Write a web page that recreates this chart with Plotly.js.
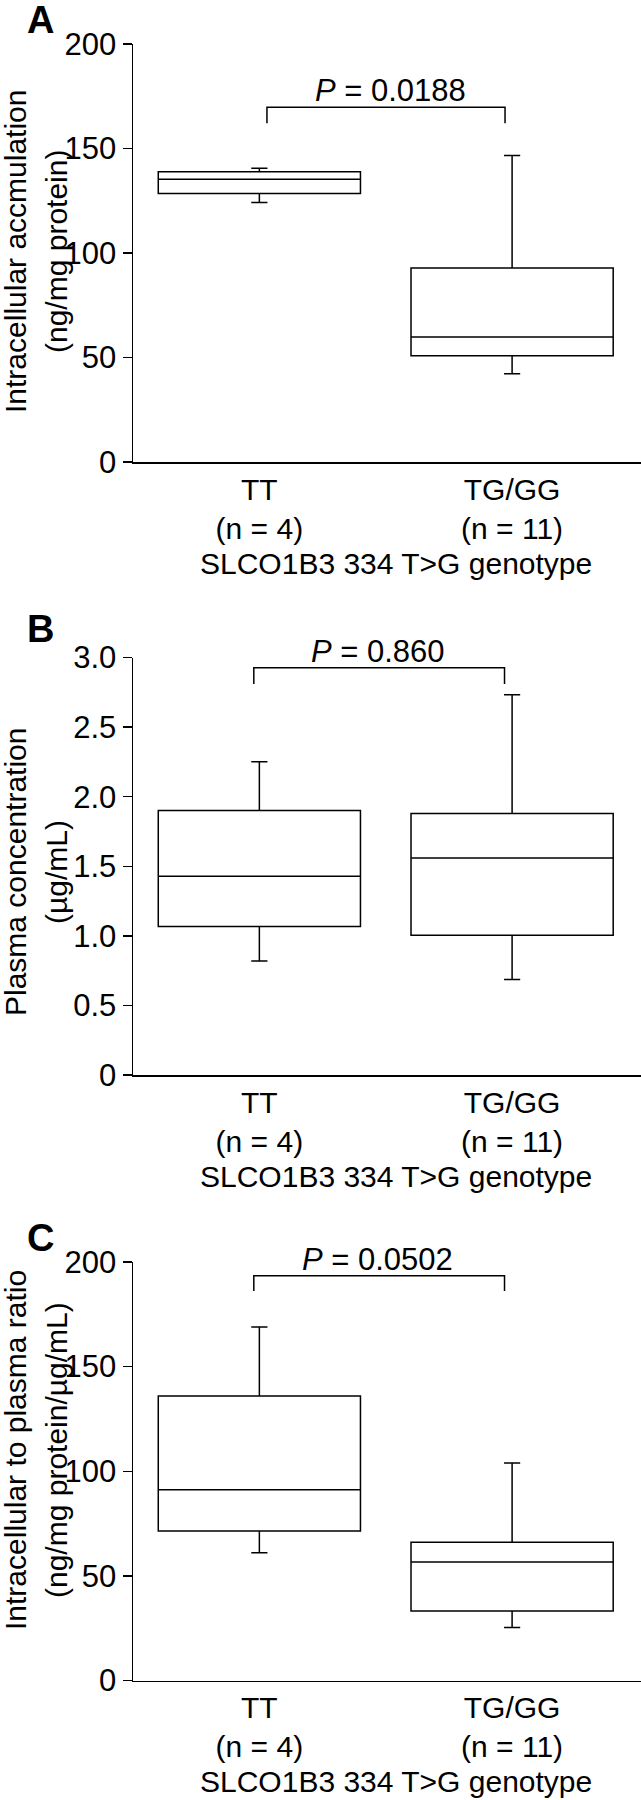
<!DOCTYPE html>
<html>
<head>
<meta charset="utf-8">
<script src="https://cdn.plot.ly/plotly-3.0.1.min.js"></script>
<style>html,body{margin:0;padding:0;background:#fff;}#chart{width:641px;height:1800px;}</style>
</head>
<body>
<div id="chart"></div>
<script>
// ---------- data ----------
const categories = ["TT", "TG/GG"];
const sampleSizes = ["(n = 4)", "(n = 11)"];
const xTitle = "SLCO1B3 334 T>G genotype";

// Panel A: intracellular accumulation (ng/mg protein)
const aLower  = [124.2, 42.2];
const aQ1     = [128.5, 50.8];
const aMedian = [135.3, 59.8];
const aQ3     = [138.9, 92.8];
const aUpper  = [140.5, 146.6];
const aPValue = "0.0188";

// Panel B: plasma concentration (µg/mL)
const bLower  = [0.82, 0.687];
const bQ1     = [1.067, 1.005];
const bMedian = [1.428, 1.559];
const bQ3     = [1.90, 1.879];
const bUpper  = [2.251, 2.733];
const bPValue = "0.860";

// Panel C: intracellular to plasma ratio
const cLower  = [61.1, 25.3];
const cQ1     = [71.5, 33.2];
const cMedian = [91.2, 56.6];
const cQ3     = [136.0, 66.1];
const cUpper  = [168.9, 104.0];
const cPValue = "0.0502";

const aTicks = [0, 50, 100, 150, 200];
const aTickText = ["0", "50", "100", "150", "200"];
const bTicks = [0, 0.5, 1.0, 1.5, 2.0, 2.5, 3.0];
const bTickText = ["0", "0.5", "1.0", "1.5", "2.0", "2.5", "3.0"];
const cTicks = [0, 50, 100, 150, 200];
const cTickText = ["0", "50", "100", "150", "200"];

const yTitleLine1 = ["Intracellular accmulation", "Plasma concentration", "Intracellular to plasma ratio"];
const yTitleLine2 = ["(ng/mg protein)", "(µg/mL)", "(ng/mg protein/µg/mL)"];
const panelLetters = ["A", "B", "C"];

// ---------- layout helpers (positions/styles) ----------
const W = 641, H = 1800;
const FONT = "Liberation Sans, Arial, Helvetica, sans-serif";
const px = v => v / W;
const py = v => 1 - v / H;
const xDomain = [px(133), 1];
const panels = [
  {top: 44,    bottom: 462,    range: [0, 200], tv: aTicks, tt: aTickText,
   stats: [aLower, aQ1, aMedian, aQ3, aUpper], p: aPValue,
   bracket: {x: [0.03, 0.972], yTop: 169.7, yBot: 162.1}, pPos: {x: 0.52, y: 177.7},
   letterY: 20, titleY: 252},
  {top: 657.5, bottom: 1075,   range: [0, 3],   tv: bTicks, tt: bTickText,
   stats: [bLower, bQ1, bMedian, bQ3, bUpper], p: bPValue,
   bracket: {x: [-0.022, 0.97], yTop: 2.926, yBot: 2.81}, pPos: {x: 0.468, y: 3.04},
   letterY: 629, titleY: 872},
  {top: 1262,  bottom: 1680.5, range: [0, 200], tv: cTicks, tt: cTickText,
   stats: [cLower, cQ1, cMedian, cQ3, cUpper], p: cPValue,
   bracket: {x: [-0.022, 0.97], yTop: 193.4, yBot: 186.1}, pPos: {x: 0.468, y: 201},
   letterY: 1238, titleY: 1450}
];

const tickLabels = categories.map((c, i) => c + "<br>" + sampleSizes[i]);
const traces = [];
const annotations = [];
const layout = {
  width: W, height: H,
  margin: {l: 0, r: 0, t: 0, b: 0, pad: 0},
  paper_bgcolor: "#fff", plot_bgcolor: "#fff",
  showlegend: false,
  font: {family: FONT, color: "#000", size: 30},
  annotations: annotations
};

panels.forEach((p, i) => {
  const n = i === 0 ? "" : String(i + 1);
  const xa = "x" + n, ya = "y" + n;
  const [lo, q1, med, q3, up] = p.stats;
  traces.push({
    type: "box", xaxis: xa, yaxis: ya,
    x: [0, 1], lowerfence: lo, q1: q1, median: med, q3: q3, upperfence: up,
    width: 0.8, whiskerwidth: 0.08, boxpoints: false,
    line: {color: "#000", width: 1.5}, fillcolor: "rgba(255,255,255,0)",
    hoverinfo: "skip"
  });
  traces.push({
    type: "scatter", mode: "lines", xaxis: xa, yaxis: ya,
    x: [p.bracket.x[0], p.bracket.x[0], p.bracket.x[1], p.bracket.x[1]],
    y: [p.bracket.yBot, p.bracket.yTop, p.bracket.yTop, p.bracket.yBot],
    line: {color: "#000", width: 1.5}, hoverinfo: "skip"
  });
  layout["xaxis" + n] = {
    domain: xDomain, anchor: ya, range: [-0.5, 1.51],
    showline: true, linecolor: "#000", linewidth: 1.5,
    ticks: "", tickvals: [0, 1], ticktext: tickLabels,
    tickfont: {size: 30, family: FONT, color: "#000"},
    ticklabelstandoff: 0,
    showgrid: false, zeroline: false, fixedrange: true
  };
  layout["yaxis" + n] = {
    domain: [py(p.bottom), py(p.top)], anchor: xa, range: p.range,
    showline: true, linecolor: "#000", linewidth: 1.5,
    ticks: "outside", ticklen: 9, tickwidth: 1.5, tickcolor: "#000",
    tickvals: p.tv, ticktext: p.tt,
    tickfont: {size: 31, family: FONT, color: "#000"},
    ticklabelstandoff: 0,
    showgrid: false, zeroline: false, fixedrange: true
  };
  annotations.push({
    xref: xa, yref: ya + " domain", x: p.pPos.x,
    y: (p.pPos.y - p.range[0]) / (p.range[1] - p.range[0]),
    text: "<i>P</i> = " + p.p, showarrow: false,
    xanchor: "center", yanchor: "middle",
    font: {size: 31, family: FONT, color: "#000"}
  });
  annotations.push({
    xref: "paper", yref: "paper", x: px(40), y: py(p.letterY),
    text: "<b>" + panelLetters[i] + "</b>", showarrow: false,
    xanchor: "center", yanchor: "middle",
    font: {size: 38, family: FONT, color: "#000"}
  });
  annotations.push({
    xref: "paper", yref: "paper", x: px(15), y: py(p.titleY),
    text: yTitleLine1[i], showarrow: false, textangle: -90,
    xanchor: "center", yanchor: "middle",
    font: {size: 30, family: FONT, color: "#000"}
  });
  annotations.push({
    xref: "paper", yref: "paper", x: px(56), y: py(p.titleY),
    text: yTitleLine2[i], showarrow: false, textangle: -90,
    xanchor: "center", yanchor: "middle",
    font: {size: 30, family: FONT, color: "#000"}
  });
  annotations.push({
    xref: "paper", yref: "paper", x: px(396), y: py(p.bottom + 101),
    text: xTitle, showarrow: false,
    xanchor: "center", yanchor: "middle",
    font: {size: 30, family: FONT, color: "#000"}
  });
});

Plotly.newPlot("chart", traces, layout, {staticPlot: true, displayModeBar: false});
</script>
</body>
</html>
